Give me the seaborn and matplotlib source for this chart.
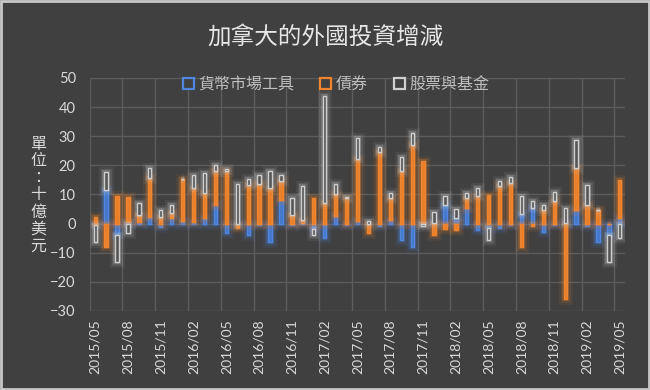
import numpy as np
import pandas as pd
import matplotlib
matplotlib.use("Agg")
import matplotlib.pyplot as plt
import matplotlib.patheffects as pe
from matplotlib.patches import Rectangle
import seaborn as sns

# monthly categories 2015/05 .. 2019/05
months = [p.strftime("%Y/%m") for p in pd.period_range("2015-05", "2019-05", freq="M")]

# values (十億美元)
money = [-0.5, 11.6, -3.9, 0.4, 0.5, 2.4, -1.2, 1.8, 0.7, 0.5,
         1.8, 6.2, -3.3, -0.4, -3.9, -0.5, -6.2, 8.2, -0.5, 0.3,
         -1.8, -5.1, 2.6, -0.5, 0.7, -0.3, -1.0, 1.2, -5.6, -7.9,
         0.2, 0.3, 6.4, 1.8, 5.5, -2.2, -1.5, -1.6, -0.5, 3.4,
         5.3, -3.0, -0.5, 0.2, 4.7, -1.0, -6.2, -3.9, 1.8]
bonds = [2.4, -7.9, 9.5, 8.8, 2.5, 13.2, 2.2, 1.7, 14.6, 11.8,
         8.6, 11.7, 18.0, -1.2, 13.1, 13.6, 12.2, 6.3, 3.0, 1.0,
         8.7, 7.2, 7.5, 8.7, 21.3, -3.0, 24.5, 7.5, 17.9, 27.1,
         21.4, -3.9, -1.8, -2.2, 3.2, 9.3, 9.9, 12.8, 13.9, -7.9,
         -0.7, 4.7, 7.6, -26.0, 14.4, 6.4, 4.7, 0.0, 13.2]
equity = [-5.7, 6.1, -9.2, -3.3, 4.0, 3.4, 2.4, 2.9, 0.0, 4.3,
          6.9, 2.1, 0.9, 13.6, 2.3, 3.0, 5.7, 2.0, 5.7, 11.5,
          -2.2, 36.6, 3.4, 0.5, 7.5, 1.0, 1.8, 1.7, 4.8, 4.0,
          -1.0, 3.5, 2.9, 3.2, 1.7, 2.9, -4.0, 1.7, 2.0, 5.9,
          2.3, 1.7, 3.2, 5.0, 9.5, 6.9, 0.0, -9.2, -5.1]

names = ["貨幣市場工具", "債券", "股票與基金"]
edge_colors = ["#4f86e0", "#f0852d", "#cfcfcf"]
face_colors = ["#4677c8", "#e8802c", "#555555"]

BG = "#404040"
TXT = "#d9d9d9"
GRID = "#5c5c5c"

df = pd.DataFrame({"month": months, names[0]: money, names[1]: bonds, names[2]: equity})

sns.set_theme(style="dark")
plt.rcParams['font.family'] = ['Noto Sans CJK TC', 'DejaVu Sans']

fig, ax = plt.subplots(figsize=(6.5, 3.9), dpi=100)
fig.patch.set_facecolor(BG)
ax.set_facecolor(BG)
fig.subplots_adjust(left=0.138, right=0.962, top=0.80, bottom=0.203)

n = len(months)
pos = np.zeros(n)
neg = np.zeros(n)
for name, ec, fc in zip(names, edge_colors, face_colors):
    vals = df[name].to_numpy()
    base = np.where(vals >= 0, pos, neg)
    start = len(ax.patches)
    sns.barplot(data=df, x="month", y=name, order=months, color=ec, saturation=1,
                width=0.3, ax=ax, zorder=3)
    for i, p in enumerate(ax.patches[start:]):
        p.set_y(base[i])
        p.set_facecolor(fc)
        p.set_edgecolor(ec)
        p.set_linewidth(1.0)
        p.set_path_effects([pe.Stroke(linewidth=8, foreground=ec, alpha=0.07),
                            pe.Stroke(linewidth=5, foreground=ec, alpha=0.12),
                            pe.Stroke(linewidth=3, foreground=ec, alpha=0.22),
                            pe.Normal()])
    pos = pos + np.where(vals >= 0, vals, 0)
    neg = neg + np.where(vals < 0, vals, 0)

# axes
ax.set_ylim(-30, 50)
ax.set_xlim(-0.5, n - 0.5)
ax.set_yticks(np.arange(-30, 51, 10))
ax.set_xticks(np.arange(0, n, 3))
ax.set_xticklabels(months[::3], rotation=90)
ax.set_xticks(np.arange(-0.5, n - 1, 3), minor=True)
ax.set_xlabel("")
ax.set_ylabel("")
ax.grid(False)
ax.yaxis.grid(True, color=GRID, lw=1, zorder=0)
ax.xaxis.grid(True, which="minor", color=GRID, lw=1, zorder=0)
ax.tick_params(axis="both", which="both", length=0, colors=TXT)
ax.tick_params(axis="y", pad=10, labelsize=10.5)
ax.tick_params(axis="x", pad=6, labelsize=10)
for lab in ax.get_xticklabels() + ax.get_yticklabels():
    lab.set_family(["Lato", "DejaVu Sans"])
for s in ax.spines.values():
    s.set_visible(False)

# legend with hollow squares
handles = [Rectangle((0, 0), 1, 1, facecolor=BG, edgecolor=c, lw=1.6) for c in edge_colors]
leg = ax.legend(handles, names, loc="center", bbox_to_anchor=(0.46, 0.97), ncol=3,
                frameon=False, handlelength=0.7, handleheight=0.7, handletextpad=0.3,
                columnspacing=1.6, fontsize=11.5)
for t in leg.get_texts():
    t.set_color("#bfbfbf")

fig.text(0.5, 1 - 37 / 390, "加拿大的外國投資增減", ha="center", va="center",
         fontsize=17, color="#e6e6e6")
fig.text(38 / 650, 0.5, "\n".join("單位：十億美元"), ha="center", va="center",
         fontsize=11.5, color=TXT, linespacing=1.0)

fig.add_artist(Rectangle((0.002, 0.003), 0.996, 0.994, transform=fig.transFigure,
                         fill=False, edgecolor="#c8c8c8", lw=2))

fig.savefig("out.png", dpi=100, facecolor=BG)
